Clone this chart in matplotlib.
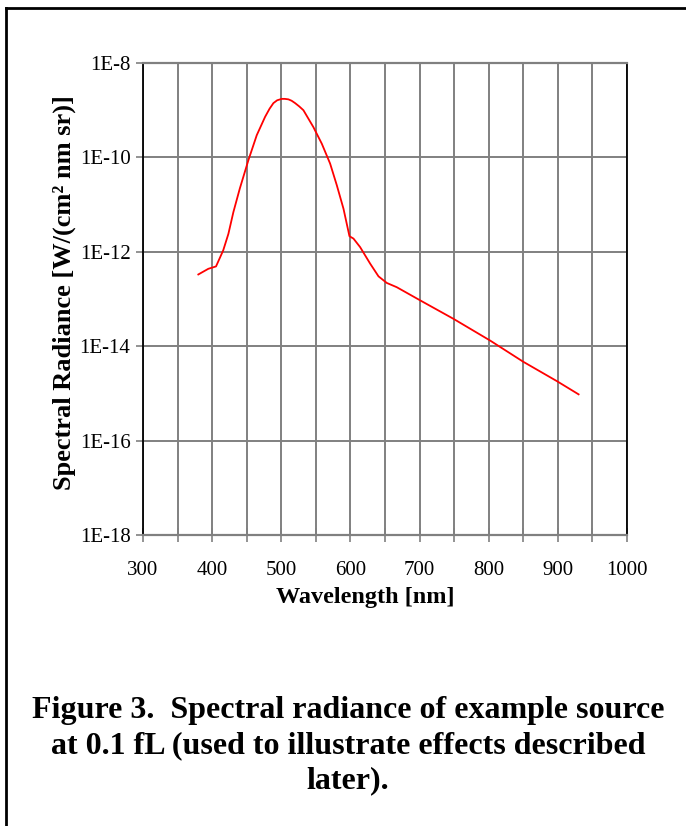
import matplotlib
matplotlib.use('Agg')
import matplotlib.pyplot as plt
from matplotlib import ticker
from matplotlib.lines import Line2D
import numpy as np

# wavelength [nm] and spectral radiance [W/(cm^2 nm sr)]
wavelength = [380, 394.5, 405.6, 416, 423.5, 430.7, 440, 452.4, 464.5, 476.6,
              483, 488.6, 494, 500.7, 505, 510.3, 515, 520, 526, 532, 546.5,
              558.6, 570.6, 580.3, 590, 598.6, 604.4, 614, 628.5, 640.6, 652.6,
              667, 701, 749, 802, 850, 898.6, 930]
log_radiance = [-12.48, -12.36, -12.31, -11.97, -11.62, -11.16, -10.66, -10.06,
                -9.53, -9.14, -8.97, -8.85, -8.79, -8.76, -8.76, -8.77, -8.80,
                -8.85, -8.92, -9.00, -9.36, -9.71, -10.13, -10.59, -11.09,
                -11.67, -11.72, -11.90, -12.25, -12.52, -12.66, -12.75, -13.03,
                -13.42, -13.88, -14.33, -14.74, -15.02]
radiance = [10 ** v for v in log_radiance]

ytick_vals = [1e-18, 1e-16, 1e-14, 1e-12, 1e-10, 1e-8]
ytick_labels = ['1E-18', '1E-16', '1E-14', '1E-12', '1E-10', '1E-8']
xtick_vals = [300, 400, 500, 600, 700, 800, 900, 1000]

caption = ['Figure 3.  Spectral radiance of example source',
           'at 0.1 fL (used to illustrate effects described',
           'later).']

plt.rcParams['font.family'] = ['Liberation Serif', 'DejaVu Serif']

W, H = 686, 826
fig = plt.figure(figsize=(W / 100, H / 100), dpi=100)
ax = fig.add_axes([143 / W, 1 - 535 / H, (627 - 143) / W, (535 - 63) / H])

grey = '#808080'
ax.plot(wavelength, radiance, color='red', lw=1.3)
ax.set_yscale('log')
ax.set_xlim(300, 1000)
ax.set_ylim(1e-18, 1e-8)

ax.set_yticks(ytick_vals)
ax.set_yticklabels(ytick_labels)
ax.yaxis.set_minor_locator(ticker.NullLocator())
ax.set_xticks(xtick_vals)
ax.set_xticks(np.arange(350, 1000, 100), minor=True)

ax.grid(True, which='both', color=grey, lw=1.4)
ax.tick_params(which='both', direction='inout', length=10, width=1.2,
               color=grey, labelsize=15, pad=4)
ax.tick_params(axis='x', which='both', pad=14)

for side in ['top', 'bottom']:
    ax.spines[side].set_color(grey)
    ax.spines[side].set_linewidth(1.6)
for side in ['left', 'right']:
    ax.spines[side].set_color('black')
    ax.spines[side].set_linewidth(1.3)

fig.text(365 / W, 1 - 597 / H, 'Wavelength [nm]', ha='center', va='center',
         fontsize=17.5, fontweight='bold')
fig.text(64 / W, 1 - 293 / H, 'Spectral Radiance [W/(cm² nm sr)]',
         ha='center', va='center', rotation=90, fontsize=19, fontweight='bold')

for i, line in enumerate(caption):
    fig.text(348 / W, 1 - (718 + 35 * i) / H, line, ha='center', va='baseline',
             fontsize=23, fontweight='bold')

# page frame: top and left edges
fig.add_artist(Line2D([6 / W, 1], [1 - 8 / H, 1 - 8 / H], color='black', lw=2))
fig.add_artist(Line2D([6 / W, 6 / W], [0, 1 - 8 / H], color='black', lw=2))

fig.savefig('out.png', dpi=100)
